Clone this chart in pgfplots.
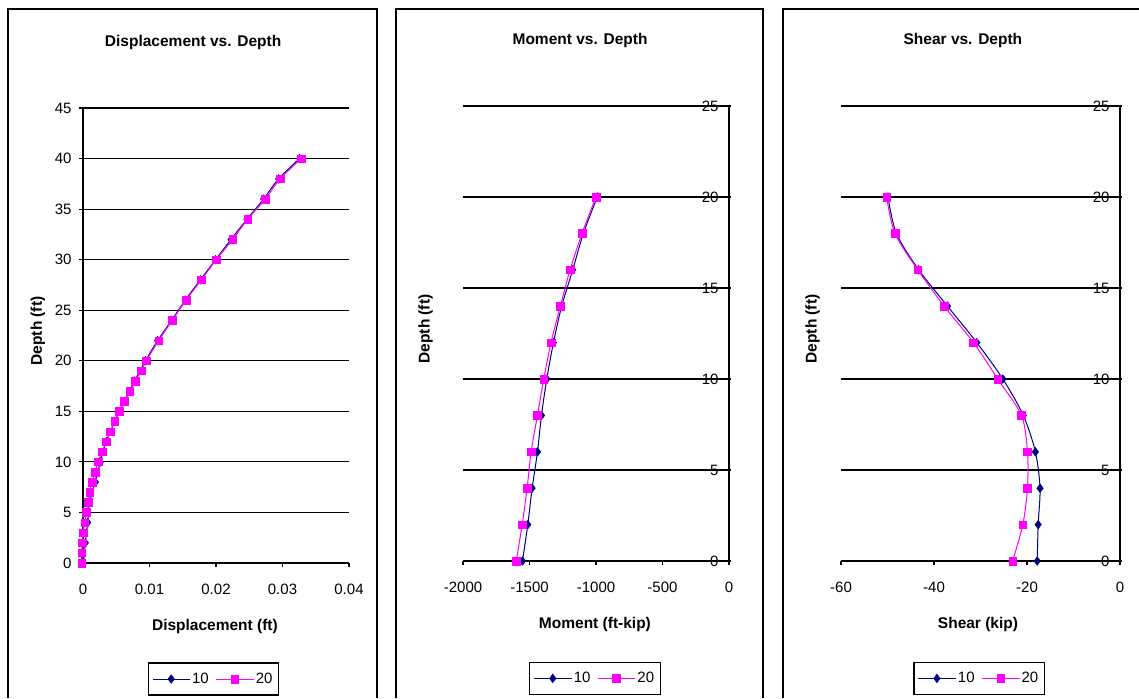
\documentclass[border=0pt]{standalone}
\usepackage{pgfplots}
\pgfplotsset{compat=1.18}
\usepackage{fontspec}
\setmainfont{Liberation Sans}
\definecolor{navy}{HTML}{000080}
\definecolor{mag}{HTML}{FF00FF}
\pgfplotsset{
  base/.style={
    scale only axis, anchor=south west, clip=false,
    font=\fontsize{15}{17}\selectfont,
    tick label style={font=\fontsize{15}{17}\selectfont},
    /pgf/number format/assume math mode=true,
    scaled x ticks=false, scaled y ticks=false,
    ymajorgrids, grid style={black, line width=1.2pt},
    axis line style={black, line width=1.2pt},
    tick style={black, line width=1.2pt},
    tick align=outside, major tick length=4pt,
    xtick pos=bottom,
    xticklabel style={yshift=-13pt},
    title style={font=\fontsize{15.5}{18}\selectfont\bfseries, anchor=center},
    xlabel style={font=\fontsize{15.5}{18}\selectfont\bfseries, anchor=center},
    ylabel style={font=\fontsize{15.5}{18}\selectfont\bfseries, anchor=center},
    legend columns=2,
    legend style={anchor=center, draw=black, line width=1.2pt,
      font=\fontsize{15}{17}\selectfont, inner xsep=4pt, inner ysep=8pt,
      /tikz/every even column/.append style={column sep=5pt}},
    legend image code/.code={\draw[mark repeat=2, mark phase=2, #1]
      plot coordinates {(0pt,0pt) (18.5pt,0pt) (37pt,0pt)};},
  },
  s10/.style={navy, line width=1pt, smooth, tension=0.5, mark=diamond*,
    mark size=4.3pt, mark options={fill=navy, draw=navy, line width=0.5pt}},
  s20/.style={mag, line width=1pt, smooth, tension=0.5, mark=square*,
    mark size=3.8pt, mark options={fill=mag, draw=mag, line width=0.5pt}},
}
\begin{document}
\begin{tikzpicture}[x=1pt,y=1pt]
\useasboundingbox (0,0) rectangle (1139,698);
% panel frames
\draw[line width=1.5pt] (8,0) -- (8,689) -- (377,689) -- (377,0);
\draw[line width=1.5pt] (396,0) -- (396,689) -- (763,689) -- (763,0);
\draw[line width=1.5pt] (783,0) -- (783,689) -- (1145,689);

% Panel 1
\begin{axis}[base, at={(83pt,135pt)}, width=266pt, height=455pt,
  axis x line*=bottom, axis y line*=left,
  xmin=0, xmax=0.04, ymin=0, ymax=45,
  xtick={0,0.01,0.02,0.03,0.04}, xticklabels={0,0.01,0.02,0.03,0.04},
  ytick={0,5,...,45},
  yticklabel style={xshift=-4pt},
  title={Displacement vs. Depth},
  title style={at={(axis description cs:0.414,1.13)}},
  xlabel={Displacement (ft)},
  xlabel style={at={(axis description cs:0.496,-0.14)}},
  ylabel={Depth (ft)},
  ylabel style={at={(axis description cs:-0.17,0.51)}},
  legend style={at={(0.49,-0.255)}},
]
\addplot[s10] coordinates {(0.0001,0) (0.00035,2) (0.0007,4) (0.001,6) (0.00185,8) (0.0026,10) (0.0035,12) (0.00476,14) (0.0062,16) (0.00777,18) (0.0094,20) (0.01123,22) (0.01333,24) (0.01539,26) (0.01764,28) (0.01995,30) (0.02226,32) (0.02466,34) (0.02717,36) (0.02942,38) (0.03258,40)};
\addlegendentry{10}
\addplot[s20] coordinates {(-0.0002,0) (-0.0002,1) (-0.0001,2) (0.0,3) (0.00025,4) (0.0005,5) (0.00075,6) (0.001,7) (0.0014,8) (0.0018,9) (0.00226,10) (0.00286,11) (0.00351,12) (0.00411,13) (0.00476,14) (0.00541,15) (0.00622,16) (0.00702,17) (0.00787,18) (0.00872,19) (0.00952,20) (0.01138,22) (0.01343,24) (0.01549,26) (0.01779,28) (0.02005,30) (0.02251,32) (0.02476,34) (0.02742,36) (0.02967,38) (0.03283,40)};
\addlegendentry{20}
\end{axis}

% Panel 2
\begin{axis}[base, at={(463pt,137pt)}, width=266pt, height=455pt,
  axis x line*=bottom, axis y line*=right,
  xmin=-2000, xmax=0, ymin=0, ymax=25,
  xtick={-2000,-1500,-1000,-500,0}, xticklabels={-2000,-1500,-1000,-500,0},
  ytick={0,5,...,25},
  yticklabel style={anchor=east, xshift=-11pt},
  ytick style={xshift=-2.5pt},
  title={Moment vs. Depth},
  title style={at={(axis description cs:0.44,1.13)}},
  xlabel={Moment (ft-kip)},
  xlabel style={at={(axis description cs:0.496,-0.14)}},
  ylabel={Depth (ft)},
  ylabel style={at={(axis description cs:-0.141,0.51)}},
  legend style={at={(0.496,-0.258)}},
]
\addplot[s10] coordinates {(-1553,0) (-1513,2) (-1480,4) (-1440,6) (-1410,8) (-1370,10) (-1320,12) (-1258,14) (-1175,16) (-1095,18) (-990,20)};
\addlegendentry{10}
\addplot[s20] coordinates {(-1600,0) (-1555,2) (-1518,4) (-1488,6) (-1440,8) (-1393,10) (-1338,12) (-1268,14) (-1195,16) (-1105,18) (-1000,20)};
\addlegendentry{20}
\end{axis}

% Panel 3
\begin{axis}[base, at={(841pt,137pt)}, width=279pt, height=455pt,
  axis x line*=bottom, axis y line*=right,
  xmin=-60, xmax=0, ymin=0, ymax=25,
  xtick={-60,-40,-20,0}, xticklabels={-60,-40,-20,0},
  ytick={0,5,...,25},
  yticklabel style={anchor=east, xshift=-11pt},
  ytick style={xshift=-2.5pt},
  title={Shear vs. Depth},
  title style={at={(axis description cs:0.437,1.13)}},
  xlabel={Shear (kip)},
  xlabel style={at={(axis description cs:0.491,-0.14)}},
  ylabel={Depth (ft)},
  ylabel style={at={(axis description cs:-0.102,0.51)}},
  legend style={at={(0.495,-0.258)}},
]
\addplot[s10] coordinates {(-17.8,0) (-17.6,2) (-17.2,4) (-18.2,6) (-20.8,8) (-25.2,10) (-30.8,12) (-37.1,14) (-43.3,16) (-48.1,18) (-49.9,20)};
\addlegendentry{10}
\addplot[s20] coordinates {(-23.1,0) (-20.9,2) (-19.9,4) (-19.9,6) (-21.2,8) (-26.3,10) (-31.5,12) (-37.8,14) (-43.5,16) (-48.4,18) (-50.2,20)};
\addlegendentry{20}
\end{axis}
\end{tikzpicture}
\end{document}
